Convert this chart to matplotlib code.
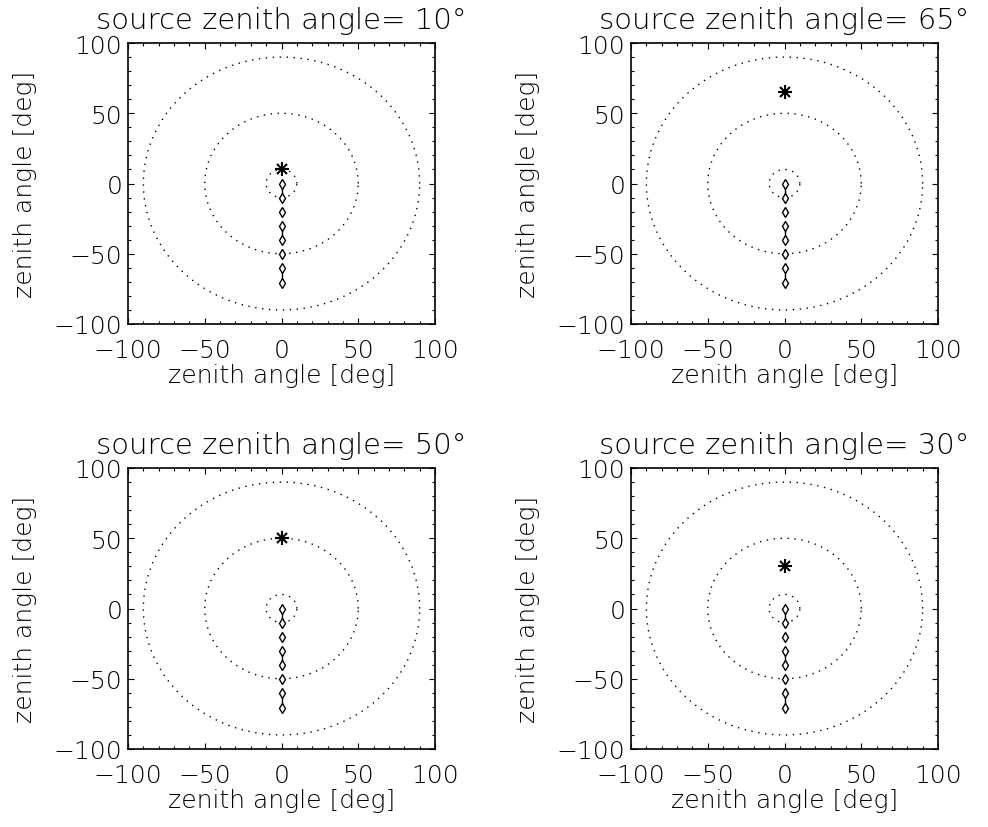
import matplotlib.pyplot as plt
import numpy as np
from matplotlib.ticker import MultipleLocator

plt.rcParams['font.family'] = ['DejaVu Sans']
plt.rcParams['font.weight'] = 'light'
plt.rcParams['axes.titleweight'] = 'light'
plt.rcParams['axes.labelweight'] = 'light'

# source zenith angle for each panel, in drawing order
source_zenith = [10, 65, 50, 30]
# dotted reference rings (zenith angle radius, deg)
ring_radii = [10, 50, 90]
# detector pointings along the meridian
point_zenith = [0, -10, -20, -30, -40, -50, -60, -71]
# pairs of pointings joined by a line
joined = [(0, 1), (3, 4), (6, 7)]
# single pointings with a short bar through them
barred = [2, 5]
bar_half = 2.5

fig = plt.figure(figsize=(9.88, 8.28), dpi=100)
W, H = 988, 828
boxes = [(128, 44), (631, 44), (128, 469), (631, 469)]
aw, ah = 307, 281

theta = np.linspace(0, 2 * np.pi, 400)

for (x0, y0), src in zip(boxes, source_zenith):
    ax = fig.add_axes([x0 / W, (H - y0 - ah) / H, aw / W, ah / H])

    for r in ring_radii:
        ax.plot(r * np.cos(theta), r * np.sin(theta), color='k', lw=1.0,
                linestyle=(0, (1, 4)))

    xs = np.zeros(len(point_zenith))
    ys = np.array(point_zenith)
    for i, j in joined:
        ax.plot([0, 0], [ys[i], ys[j]], color='k', lw=1.0)
    for i in barred:
        ax.plot([0, 0], [ys[i] - bar_half, ys[i] + bar_half], color='k', lw=1.0)
    ax.plot(xs, ys, linestyle='none', marker='d', markersize=5.5,
            markerfacecolor='white', markeredgecolor='k', markeredgewidth=1.0)

    # asterisk for the source
    ax.plot(0, src, marker='+', markersize=10, color='k', mew=1.5)
    ax.plot(0, src, marker='x', markersize=7.5, color='k', mew=1.5)

    ax.set_xlim(-100, 100)
    ax.set_ylim(-100, 100)
    ax.xaxis.set_major_locator(MultipleLocator(50))
    ax.yaxis.set_major_locator(MultipleLocator(50))
    ax.xaxis.set_minor_locator(MultipleLocator(10))
    ax.yaxis.set_minor_locator(MultipleLocator(10))
    ax.tick_params(which='both', direction='in', top=True, right=True,
                   labelsize=18, width=0.8)
    ax.tick_params(axis='x', pad=10)
    ax.tick_params(axis='y', pad=4)
    ax.tick_params(which='major', length=4)
    ax.tick_params(which='minor', length=2)
    for sp in ax.spines.values():
        sp.set_linewidth(1.2)

    ax.set_xlabel('zenith angle [deg]', fontsize=18, labelpad=1)
    ax.set_ylabel('zenith angle [deg]', fontsize=18, labelpad=12)
    ax.set_title(f'source zenith angle= {src}°', fontsize=21, pad=11)

fig.savefig('out.png', dpi=100)
